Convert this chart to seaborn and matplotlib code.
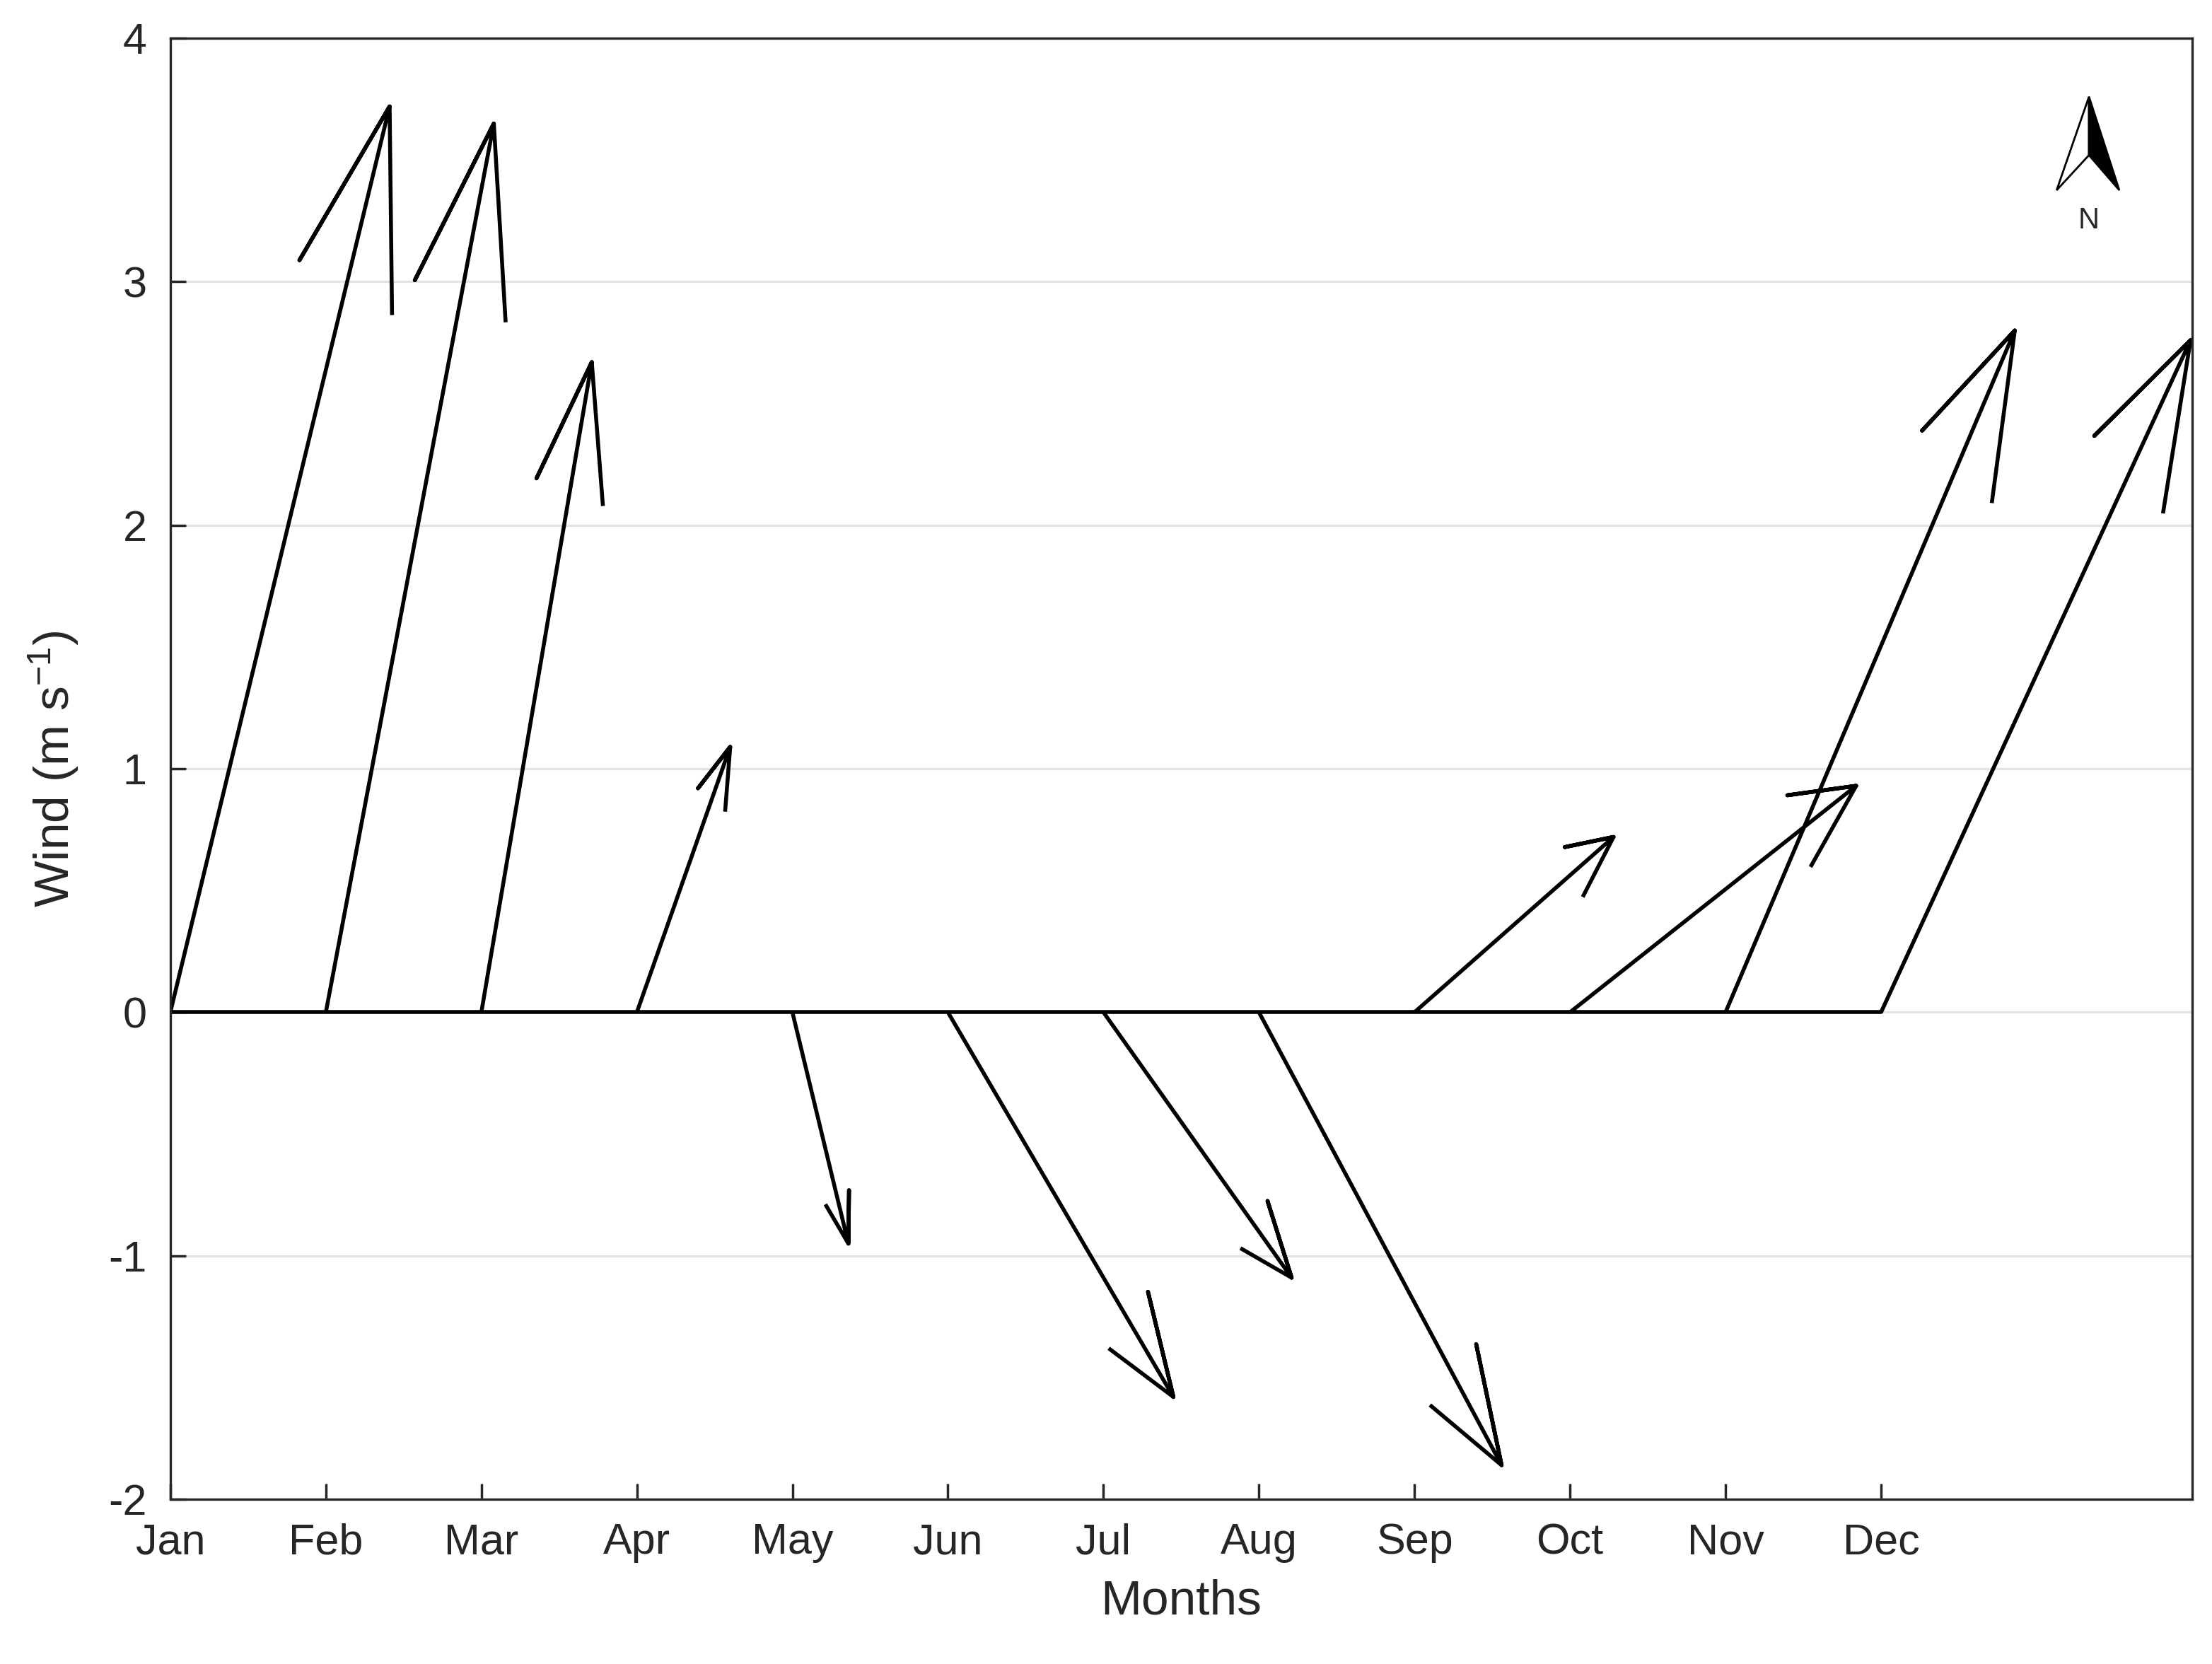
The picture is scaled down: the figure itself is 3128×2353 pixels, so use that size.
import numpy as np
import pandas as pd
import matplotlib
matplotlib.use("Agg")
import matplotlib.pyplot as plt
import seaborn as sns
from matplotlib.patches import Polygon

months = ["Jan","Feb","Mar","Apr","May","Jun","Jul","Aug","Sep","Oct","Nov","Dec"]
u = [1.41, 1.08, 0.71, 0.60, 0.36, 1.45, 1.21, 1.56, 1.28, 1.84, 1.86, 1.99]
v = [3.72, 3.65, 2.67, 1.09, -0.95, -1.58, -1.09, -1.86, 0.72, 0.93, 2.80, 2.76]

sns.set_theme(style="white")
plt.rcParams['font.family'] = ['Liberation Sans', 'DejaVu Sans']
plt.rcParams['axes.unicode_minus'] = False
plt.rcParams['mathtext.default'] = 'regular'

fig = plt.figure(figsize=(15.64, 11.765), dpi=200)
ax = fig.add_axes([0.077, 0.099, 0.914, 0.878])

x = np.arange(1, len(months) + 1)
base = pd.DataFrame({"x": x, "y": np.zeros(len(x))})
sns.lineplot(data=base, x="x", y="y", ax=ax, color="black", lw=2)

shape = np.array([0, 1, 0.8, 1, 0.8]) + 1j * np.array([0, 0, 0.08, 0, -0.08])
for xi, ui, vi in zip(x, u, v):
    z = complex(ui, vi)
    pts = shape * z
    ax.plot(xi + pts.real, pts.imag, color="black", lw=2, solid_capstyle="butt")

ax.set_xlim(1, 14)
ax.set_ylim(-2, 4)
ax.set_xticks(x)
ax.set_xticklabels(months)
ax.set_yticks([-2, -1, 0, 1, 2, 3, 4])
ax.yaxis.grid(True, color="#e3e3e3", lw=1.2)
ax.tick_params(axis="both", labelsize=22, colors="#262626", direction="in", length=8,
               bottom=True, left=True, pad=12)
for s in ax.spines.values():
    s.set_color("#262626")
    s.set_linewidth(1.2)
ax.set_xlabel("Months", fontsize=25, color="#262626", labelpad=8)
ax.set_ylabel("Wind (m s$^{-1}$)", fontsize=25, color="#262626", labelpad=14)

# north arrow
top = (0.949, 0.960); left = (0.933, 0.896); right = (0.964, 0.896); notch = (0.949, 0.920)
ax.add_patch(Polygon([top, left, notch], closed=True, transform=ax.transAxes,
                     facecolor="white", edgecolor="black", lw=1))
ax.add_patch(Polygon([top, notch, right], closed=True, transform=ax.transAxes,
                     facecolor="black", edgecolor="black", lw=1))
ax.text(0.949, 0.885, "N", transform=ax.transAxes, ha="center", va="top", fontsize=15)

fig.savefig("out.png", dpi=200)
